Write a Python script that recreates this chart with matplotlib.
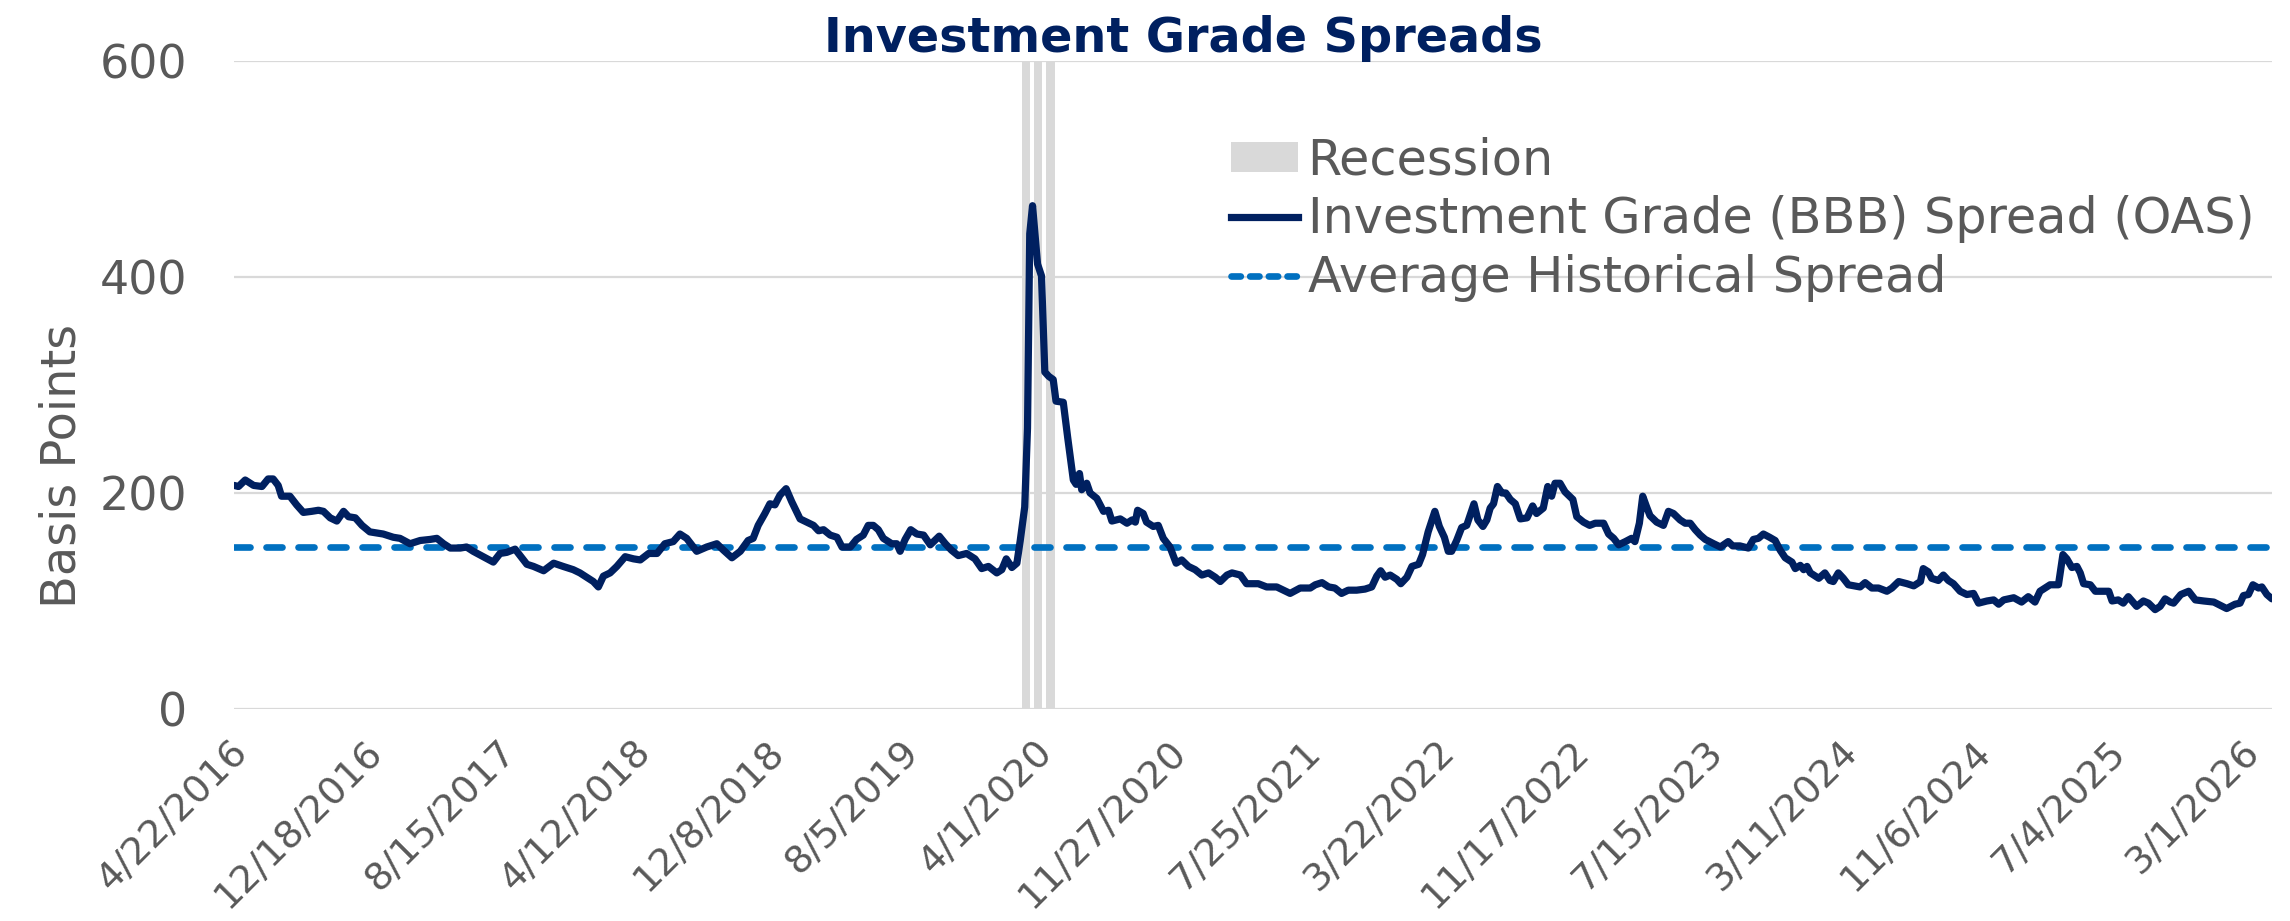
import matplotlib
matplotlib.use('Agg')
import matplotlib.pyplot as plt
import matplotlib.transforms as mtransforms
from matplotlib.patches import Patch
from matplotlib.lines import Line2D
import pandas as pd

plt.rcParams['font.family'] = ['DejaVu Sans']

# data (days counted from the first date)
start_date = '2016-04-22'
end_days = 3647
days_since_start = [
    0, 8, 20, 35, 50, 61, 70, 79, 85, 100, 112, 124, 139, 151, 160, 172, 184, 196, 205, 217,
    229, 243, 267, 285, 297, 315, 333, 351, 363, 375, 387, 405, 416, 428, 446, 464, 476, 488, 503, 512,
    524, 536, 554, 572, 589, 607, 619, 631, 643, 652, 661, 673, 685, 700, 715, 727, 742, 757, 771, 786,
    798, 810, 828, 846, 864, 876, 891, 906, 920,
    929, 938, 950, 959, 968, 977, 988, 998, 1013, 1025, 1037, 1046, 1055, 1067, 1079, 1088, 1103, 1114,
    1126, 1135, 1144, 1153, 1162, 1177, 1186, 1192, 1201, 1211, 1222, 1234, 1246, 1262, 1273, 1284,
    1296, 1311, 1326, 1338, 1350, 1365, 1374, 1382, 1392, 1401, 1407, 1415, 1420, 1424, 1429, 1438,
    1445, 1451, 1458, 1466, 1471, 1484, 1492, 1502, 1507, 1513, 1517, 1526, 1532, 1544, 1556, 1565,
    1571, 1586, 1598, 1607, 1613, 1617, 1627, 1633, 1645, 1654, 1663, 1675, 1686, 1696, 1708, 1720,
    1732, 1744, 1756, 1765, 1777, 1786, 1801, 1812,
    1833, 1848, 1866, 1878, 1890, 1908, 1926, 1935, 1947, 1959, 1970, 1982, 1994, 2009, 2024, 2036,
    2045, 2052, 2060, 2069, 2081, 2088, 2099, 2108, 2120, 2127, 2137, 2149, 2157, 2166, 2173, 2179,
    2188, 2197, 2206, 2219, 2226, 2235, 2242, 2248, 2254, 2261, 2269, 2276, 2284, 2293, 2302, 2314,
    2324, 2331, 2343, 2351, 2358, 2364, 2373, 2382, 2396, 2403, 2415, 2426, 2436, 2451, 2460, 2469,
    2478, 2490, 2501, 2507, 2515, 2521, 2528, 2534, 2546, 2558, 2567, 2576, 2588, 2597, 2606, 2615,
    2624, 2633, 2648, 2660, 2674, 2682, 2695, 2710, 2719, 2728, 2737, 2748,
    2758, 2767, 2776, 2788, 2794, 2803, 2809, 2815, 2821, 2836, 2847, 2856, 2862, 2871, 2880, 2889,
    2910, 2919, 2931, 2943, 2958, 2967, 2979, 2994, 3006, 3018, 3023, 3032, 3038, 3050, 3059, 3068,
    3077, 3089, 3101, 3113, 3122, 3137, 3149, 3158, 3167, 3185, 3199, 3211, 3223, 3232, 3244, 3250,
    3265, 3273, 3280, 3289, 3298, 3304, 3310, 3322, 3331, 3355, 3361, 3372, 3381, 3390, 3405, 3417,
    3426, 3438, 3447, 3456, 3465, 3471, 3484, 3498, 3510, 3525, 3543, 3566, 3581, 3590, 3596, 3605,
    3613, 3623, 3629, 3638, 3647]
bbb_spread = [
    207, 206, 212, 207, 206, 213, 213, 207, 197, 197, 189, 182, 183, 184, 183, 177, 174, 183, 178, 177,
    170, 164, 162, 159, 158, 153, 156, 157, 158, 153, 149, 149, 150, 146, 141, 136, 144, 145, 148, 142,
    134, 132, 128, 135, 132, 129, 126, 122, 118, 113, 123, 126, 132, 141, 139, 138, 144, 144, 153, 155,
    162, 158, 146, 150, 153, 147, 140, 146, 156,
    158, 170, 181, 190, 189, 198, 204, 192, 176, 173, 170, 165, 166, 161, 159, 150, 150, 157,
    161, 170, 170, 166, 158, 153, 153, 146, 157, 166, 162, 161, 152, 160, 153, 147,
    142, 144, 139, 130, 132, 126, 129, 139, 131, 135, 156, 187, 260, 440, 466, 412,
    401, 312, 308, 305, 285, 284, 251, 212, 208, 218, 203, 209, 200, 195, 183, 184,
    174, 176, 172, 175, 173, 184, 181, 173, 169, 170, 158, 150, 135, 138, 132, 129,
    124, 126, 122, 118, 124, 126, 124, 116,
    116, 113, 113, 110, 107, 112, 112, 115, 117, 113, 112, 107, 110, 110, 111, 113,
    123, 128, 122, 124, 120, 116, 122, 132, 134, 143, 164, 183, 169, 159, 146, 146,
    156, 168, 170, 190, 175, 169, 175, 186, 190, 206, 200, 200, 194, 190, 176, 177,
    188, 181, 186, 206, 197, 209, 209, 201, 194, 178, 173, 170, 172, 172, 162, 158,
    152, 155, 158, 155, 172, 197, 187, 179, 173, 170, 183, 181, 175, 172, 172, 166,
    161, 157, 153, 150, 155, 151, 151, 149, 157, 158, 162, 159,
    156, 147, 140, 136, 130, 133, 129, 132, 126, 121, 126, 119, 118, 126, 121, 115,
    113, 117, 112, 112, 109, 112, 118, 116, 114, 118, 130, 127, 121, 119, 124, 119,
    116, 109, 106, 107, 98, 100, 101, 97, 101, 103, 99, 104, 99, 109, 113, 115,
    115, 143, 139, 131, 132, 126, 116, 115, 109, 109, 100, 101, 98, 104, 95, 100,
    98, 92, 95, 102, 99, 98, 106, 109, 101, 100, 99, 93, 97, 98, 105, 106,
    115, 112, 113, 106, 102]
avg_spread = 150
recession_dates = ['2020-03-09', '2020-03-31', '2020-04-22']
recession_width_days = 15
tick_labels = ['4/22/2016', '12/18/2016', '8/15/2017', '4/12/2018', '12/8/2018', '8/5/2019',
               '4/1/2020', '11/27/2020', '7/25/2021', '3/22/2022', '11/17/2022', '7/15/2023',
               '3/11/2024', '11/6/2024', '7/4/2025', '3/1/2026']
y_ticks = [0, 200, 400, 600]

navy = '#002060'
blue = '#0070C0'
grey_text = '#595959'
grid_col = '#D9D9D9'

t0 = pd.Timestamp(start_date)
dates = t0 + pd.to_timedelta(days_since_start, unit='D')
t_end = t0 + pd.Timedelta(days=end_days)

fig = plt.figure(figsize=(22.9, 9.21), dpi=100)
ax = fig.add_axes([0.1022, 0.2302, 0.8899, 0.7036])

# recession bars
rec = pd.to_datetime(recession_dates)
ax.bar(rec, [600] * len(rec), width=recession_width_days, color=grid_col, zorder=1)

for yv in y_ticks:
    ax.axhline(yv, color=grid_col, lw=1.6, zorder=0)

ax.plot([t0, t_end], [avg_spread, avg_spread], color=blue, lw=4.8, dashes=(2.4, 2.4),
        dash_capstyle='round', zorder=2)
ax.plot(dates, bbb_spread, color=navy, lw=5.2, solid_joinstyle='round', solid_capstyle='round', zorder=3)

ax.set_xlim(t0, t_end)
ax.set_ylim(0, 600)
for s in ax.spines.values():
    s.set_visible(False)

ax.set_yticks(y_ticks)
ax.tick_params(axis='y', length=0, pad=34, labelsize=33, labelcolor=grey_text)
ax.tick_params(axis='x', length=0, pad=27, labelsize=27.5, labelcolor=grey_text)

tick_dates = pd.to_datetime(tick_labels, format='%m/%d/%Y')
ax.set_xticks(tick_dates)
ax.set_xticklabels(tick_labels, rotation=45, ha='right', va='center', rotation_mode='anchor')
shift = mtransforms.ScaledTranslation(6 / 72, 0, fig.dpi_scale_trans)
for lab in ax.get_xticklabels():
    lab.set_transform(lab.get_transform() + shift)

ax.set_ylabel('Basis Points', fontsize=34.5, color=grey_text)
ax.yaxis.set_label_coords(-0.0727, 0.375)

fig.text(0.5166, 0.9577, 'Investment Grade Spreads', fontsize=34.4, fontweight='bold',
         color=navy, ha='center', va='center')

handles = [Patch(facecolor=grid_col, edgecolor='none'),
           Line2D([0], [0], color=navy, lw=5.2),
           Line2D([0], [0], color=blue, lw=4.8, dashes=(1.4, 1.4), dash_capstyle='round')]
labels = ['Recession', 'Investment Grade (BBB) Spread (OAS)', 'Average Historical Spread']
fig.legend(handles, labels, loc='upper left', bbox_to_anchor=(0.5376, 0.852), frameon=False,
           fontsize=35.5, labelcolor=grey_text, handlelength=1.35, handleheight=0.55,
           handletextpad=0.2, labelspacing=0.225, borderpad=0, borderaxespad=0)

plt.savefig('out.png', dpi=100)
